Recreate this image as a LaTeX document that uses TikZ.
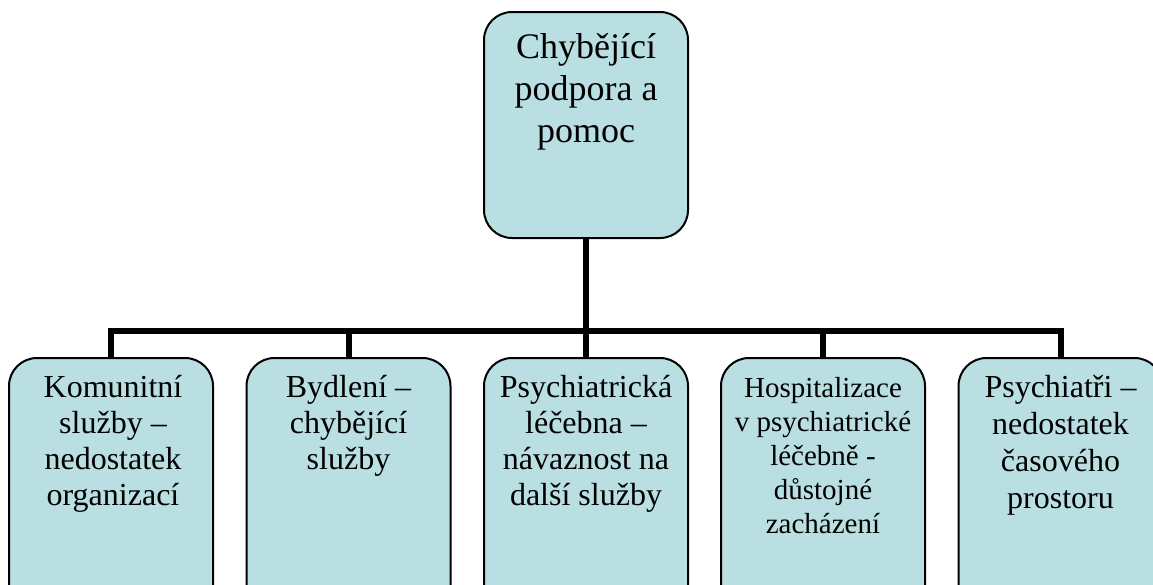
\documentclass[tikz,border=0pt]{standalone}
\usepackage{fontspec}
\setmainfont{Liberation Serif}
\begin{document}
\begin{tikzpicture}[x=1pt,y=-1pt,
  box/.style={draw=black,line width=2pt,fill=boxfill,rounded corners=28pt,
    minimum width=204pt,inner sep=0pt,anchor=north},
  topbox/.style={box,minimum height=226pt},
  leafbox/.style={box,minimum height=260pt},
  label/.style={anchor=north,inner sep=0pt,align=center,text=black},
  conn/.style={draw=black,line width=6pt}]
\definecolor{boxfill}{HTML}{B9DFE3}
\useasboundingbox (0,0) rectangle (1153,584);
\clip (0,0) rectangle (1153,584);

% root
\node[topbox] (root) at (586,11) {};
\node[label,font=\fontsize{36}{42}\selectfont] (rootlbl) at (586,22)
  {\rule{0pt}{1em}Chybějící\\podpora a\\pomoc};

% leaves
\node[leafbox] (b1) at (111,357) {};
\node[leafbox] (b2) at (348.5,357) {};
\node[leafbox] (b3) at (586,357) {};
\node[leafbox] (b4) at (823,357) {};
\node[leafbox] (b5) at (1060.5,357) {};

\node[label,font=\fontsize{32}{36}\selectfont] (t1) at (113,365)
  {\rule{0pt}{1em}Komunitní\\služby –\\nedostatek\\organizací};
\node[label,font=\fontsize{32}{36}\selectfont] (t2) at (348.5,365)
  {\rule{0pt}{1em}Bydlení –\\chybějící\\služby};
\node[label,font=\fontsize{32}{36}\selectfont] (t3) at (586,365)
  {\rule{0pt}{1em}Psychiatrická\\léčebna –\\návaznost na\\další služby};
\node[label,font=\fontsize{29}{34}\selectfont] (t4) at (823,368)
  {\rule{0pt}{1em}Hospitalizace\\v psychiatrické\\léčebně -\\důstojné\\zacházení};
\node[label,font=\fontsize{32}{37}\selectfont] (t5) at (1060.5,365)
  {\rule{0pt}{1em}Psychiatři –\\nedostatek\\časového\\prostoru};

% connectors
\coordinate (bar) at (586,331);
\foreach \b in {b1,b2,b3,b4,b5}
  \draw[conn] (root.south) -- (root.south |- bar) -| (\b.north);
\end{tikzpicture}
\end{document}
